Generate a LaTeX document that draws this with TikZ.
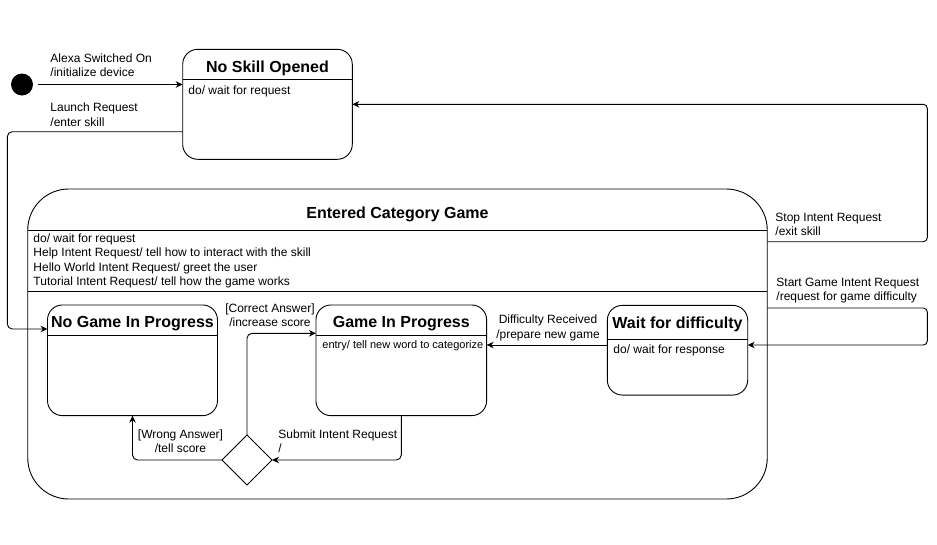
\documentclass[tikz,border=0pt]{standalone}
\usepackage{fontspec}
\setmainfont{Liberation Sans}
\usetikzlibrary{arrows.meta,shapes.geometric}
\begin{document}
\begin{tikzpicture}[x=1pt,y=-1pt, line width=0.9pt,
  statebox/.style={draw, rounded corners=15pt, inner sep=0pt, outer sep=0pt},
  ttl/.style={font=\fontsize{16}{19}\selectfont\bfseries, inner sep=0pt},
  txt/.style={font=\fontsize{12}{14.5}\selectfont, inner sep=0pt, align=left, anchor=west},
  ctxt/.style={font=\fontsize{12}{14.5}\selectfont, inner sep=0pt, align=center},
  stxt/.style={font=\fontsize{11}{13}\selectfont, inner sep=0pt, align=left, anchor=west},
  arr/.style={-{Stealth[length=7pt,width=6.5pt]}},
  ]
\useasboundingbox (0,0) rectangle (937,544);

% states
\node[circle, fill=black, minimum size=22pt, inner sep=0pt] (init) at (22,84.5) {};
\node[statebox, minimum width=169.6pt, minimum height=110pt] (nso) at (267.5,104.3) {};
\node[statebox, rounded corners=41pt, minimum width=739.5pt, minimum height=310pt] (ecg) at (397.5,344) {};
\node[statebox, minimum width=170pt, minimum height=110.7pt] (ngip) at (132.5,360.3) {};
\node[statebox, minimum width=170.7pt, minimum height=110.7pt] (gip) at (401.3,360.3) {};
\node[statebox, minimum width=140.4pt, minimum height=89.7pt] (wfd) at (677.5,350.2) {};
\node[diamond, draw, minimum width=50pt, minimum height=50pt, inner sep=0pt, outer sep=0pt] (dec) at (247,460) {};

% header lines
\draw (nso.west |- 0,79) -- (nso.east |- 0,79);
\draw (ecg.west |- 0,230) -- (ecg.east |- 0,230);
\draw (ecg.west |- 0,291) -- (ecg.east |- 0,291);
\draw (ngip.west |- 0,335) -- (ngip.east |- 0,335);
\draw (gip.west |- 0,335) -- (gip.east |- 0,335);
\draw (wfd.west |- 0,339) -- (wfd.east |- 0,339);

% titles
\node[ttl] (nsoT) at (nso.north |- 0,68) {No Skill Opened};
\node[ttl] (ecgT) at (ecg.north |- 0,214) {Entered Category Game};
\node[ttl] (ngipT) at (ngip.north |- 0,324) {No Game In Progress};
\node[ttl] (gipT) at (gip.north |- 0,324) {Game In Progress};
\node[ttl] (wfdT) at (wfd.north |- 0,324) {Wait for difficulty};

% internal texts
\node[txt] (nsoD) at (188,91) {do/ wait for request};
\node[txt] (ecgD) at (33,260.8) {do/ wait for request\\Help Intent Request/ tell how to interact with the skill\\Hello World Intent Request/ greet the user\\Tutorial Intent Request/ tell how the game works};
\node[stxt] (gipD) at (322,346) {entry/ tell new word to categorize};
\node[txt] (wfdD) at (613,350) {do/ wait for response};

% transitions
\draw[arr, shorten <=5pt] (init) -- (init -| nso.west);
\draw[arr, rounded corners=5pt] (nso.west |- 0,131.7) -- (7.3,131.7) -- (7.3,329) -- (ngip.west |- 0,329);
\draw[arr, rounded corners=4pt] (ecg.east |- 0,241.7) -- (927.3,241.7) -- (927.3,104.3) -- (nso.east);
\draw[arr, rounded corners=4pt] (ecg.east |- 0,308) -- (927.3,308) -- (927.3,345) -- (wfd.east |- 0,345);
\draw[arr] (wfd.west |- 0,345) -- (gip.east |- 0,345);
\draw[arr, rounded corners=5pt] (gip.south) -- (gip.south |- dec.east) -- (dec.east);
\draw[arr, rounded corners=5pt] (dec.west) -- (dec.west -| ngip.south) -- (ngip.south);
\draw[arr, rounded corners=5pt] (dec.north) -- (dec.north |- 0,333.3) -- (gip.west |- 0,333.3);

% transition labels
\node[txt] (l1) at (50,65) {Alexa Switched On\\/initialize device};
\node[txt] (l2) at (50,114.5) {Launch Request\\/enter skill};
\node[txt] (l3) at (775,224.5) {Stop Intent Request\\/exit skill};
\node[txt] (l4) at (776,290.5) {Start Game Intent Request\\/request for game difficulty};
\node[ctxt] (l5) at (548,328) {Difficulty Received\\/prepare new game};
\node[ctxt] (l6) at (270,315) {[Correct Answer]\\/increase score};
\node[ctxt] (l7) at (180.5,441) {[Wrong Answer]\\/tell score};
\node[txt] (l8) at (278,441) {Submit Intent Request\\/};
\end{tikzpicture}
\end{document}
